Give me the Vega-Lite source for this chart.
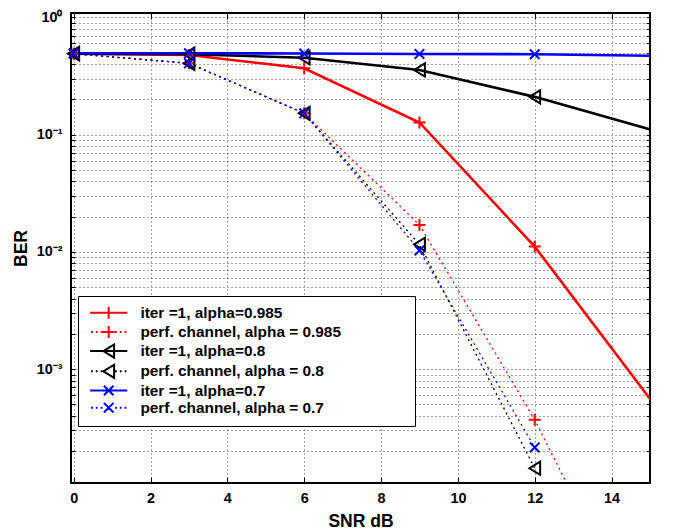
{
  "$schema": "https://vega.github.io/schema/vega-lite/v6.json",
  "width": 579,
  "height": 470,
  "autosize": {"type": "none"},
  "padding": {"left": 71, "top": 13, "right": 30, "bottom": 48},
  "background": "white",
  "config": {
    "font": "Liberation Sans",
    "view": {"stroke": "#000", "strokeWidth": 2},
    "axis": {
      "labelFont": "Liberation Sans", "labelFontWeight": "bold", "labelFontSize": 14.4, "labelColor": "#000",
      "titleFont": "Liberation Sans", "titleFontWeight": "bold", "titleFontSize": 17.5, "titleColor": "#000",
      "tickColor": "#000", "tickWidth": 1, "domain": false,
      "gridColor": "#444", "gridDash": [1, 3], "gridWidth": 1, "gridOpacity": 1
    }
  },
  "data": {"values": [
    {"series": "iter =1, alpha=0.985", "x": 0, "ber": 0.49},
    {"series": "iter =1, alpha=0.985", "x": 3, "ber": 0.478},
    {"series": "iter =1, alpha=0.985", "x": 6, "ber": 0.368},
    {"series": "iter =1, alpha=0.985", "x": 9, "ber": 0.127},
    {"series": "iter =1, alpha=0.985", "x": 12, "ber": 0.0111},
    {"series": "iter =1, alpha=0.985", "x": 18, "ber": 0.000028},
    {"series": "perf. channel, alpha = 0.985", "x": 0, "ber": 0.49},
    {"series": "perf. channel, alpha = 0.985", "x": 3, "ber": 0.406},
    {"series": "perf. channel, alpha = 0.985", "x": 6, "ber": 0.152},
    {"series": "perf. channel, alpha = 0.985", "x": 9, "ber": 0.017},
    {"series": "perf. channel, alpha = 0.985", "x": 12, "ber": 0.00037},
    {"series": "perf. channel, alpha = 0.985", "x": 15, "ber": 0.0000041},
    {"series": "iter =1, alpha=0.8", "x": 0, "ber": 0.49},
    {"series": "iter =1, alpha=0.8", "x": 3, "ber": 0.485},
    {"series": "iter =1, alpha=0.8", "x": 6, "ber": 0.453},
    {"series": "iter =1, alpha=0.8", "x": 9, "ber": 0.356},
    {"series": "iter =1, alpha=0.8", "x": 12, "ber": 0.21},
    {"series": "iter =1, alpha=0.8", "x": 18, "ber": 0.0587},
    {"series": "perf. channel, alpha = 0.8", "x": 0, "ber": 0.49},
    {"series": "perf. channel, alpha = 0.8", "x": 3, "ber": 0.406},
    {"series": "perf. channel, alpha = 0.8", "x": 6, "ber": 0.152},
    {"series": "perf. channel, alpha = 0.8", "x": 9, "ber": 0.0116},
    {"series": "perf. channel, alpha = 0.8", "x": 12, "ber": 0.000143},
    {"series": "iter =1, alpha=0.7", "x": 0, "ber": 0.494},
    {"series": "iter =1, alpha=0.7", "x": 3, "ber": 0.494},
    {"series": "iter =1, alpha=0.7", "x": 6, "ber": 0.492},
    {"series": "iter =1, alpha=0.7", "x": 9, "ber": 0.488},
    {"series": "iter =1, alpha=0.7", "x": 12, "ber": 0.485},
    {"series": "iter =1, alpha=0.7", "x": 18, "ber": 0.457},
    {"series": "perf. channel, alpha = 0.7", "x": 0, "ber": 0.49},
    {"series": "perf. channel, alpha = 0.7", "x": 3, "ber": 0.406},
    {"series": "perf. channel, alpha = 0.7", "x": 6, "ber": 0.152},
    {"series": "perf. channel, alpha = 0.7", "x": 9, "ber": 0.0103},
    {"series": "perf. channel, alpha = 0.7", "x": 12, "ber": 0.000215}
  ]},
  "layer": [
    {
      "transform": [{"filter": {"field": "series", "oneOf": ["perf. channel, alpha = 0.985", "perf. channel, alpha = 0.8", "perf. channel, alpha = 0.7"]}}],
      "mark": {"type": "line", "clip": true, "strokeWidth": 1.3, "strokeDash": [2, 3.5]},
      "encoding": {
        "x": {"field": "x", "type": "quantitative",
          "scale": {"domain": [-0.07, 15], "nice": false, "zero": false},
          "axis": {"orient": "bottom", "values": [0, 2, 4, 6, 8, 10, 12, 14], "title": "SNR dB", "grid": true,
            "tickSize": -6, "labelPadding": 14, "titlePadding": 8}},
        "y": {"field": "ber", "type": "quantitative",
          "scale": {"type": "log", "domain": [0.000107, 1.09], "nice": false, "zero": false},
          "axis": {"orient": "left", "title": "BER", "grid": true, "tickSize": -4, "labelPadding": 13, "titlePadding": 6,
            "labelOverlap": false,
            "values": [0.0002,0.0003,0.0004,0.0005,0.0006,0.0007,0.0008,0.0009,0.001,0.002,0.003,0.004,0.005,0.006,0.007,0.008,0.009,0.01,0.02,0.03,0.04,0.05,0.06,0.07,0.08,0.09,0.1,0.2,0.3,0.4,0.5,0.6,0.7,0.8,0.9,1],
            "labelExpr": "datum.value === 1 ? '10⁰' : datum.value === 0.1 ? '10⁻¹' : datum.value === 0.01 ? '10⁻²' : datum.value === 0.001 ? '10⁻³' : ''",
            "encode": {
              "ticks": {"x2": {"value": {"expr": "indexof([1,0.1,0.01,0.001], datum.value) >= 0 ? 7 : 4"}}},
              "grid": {"stroke": {"value": {"expr": "indexof([1,0.1,0.01,0.001], datum.value) >= 0 ? '#222' : '#666'"}}}
            }}},
        "color": {"field": "series", "type": "nominal",
          "scale": {"domain": ["iter =1, alpha=0.985", "perf. channel, alpha = 0.985", "iter =1, alpha=0.8", "perf. channel, alpha = 0.8", "iter =1, alpha=0.7", "perf. channel, alpha = 0.7"],
                    "range": ["#ff0000", "#ff0000", "#000000", "#000000", "#0000ff", "#0000ff"]},
          "legend": {
            "orient": "none", "legendX": 7, "legendY": 283, "title": null,
            "padding": 9, "symbolSize": 144, "symbolOffset": 14, "labelOffset": 24, "rowPadding": -1.8,
            "labelFont": "Liberation Sans", "labelFontWeight": "bold", "labelFontSize": 15.4, "labelColor": "#000",
            "labelLimit": 600,
            "labelExpr": "datum.label + '\u00a0\u00a0\u00a0\u00a0\u00a0\u00a0\u00a0\u00a0\u00a0\u00a0\u00a0\u00a0\u00a0\u00a0\u00a0\u200b'",
            "fillColor": "#ffffff", "strokeColor": "#000000",
            "symbolStrokeWidth": 2
          }}
      }
    },
    {
      "transform": [{"filter": {"field": "series", "oneOf": ["iter =1, alpha=0.985", "iter =1, alpha=0.8", "iter =1, alpha=0.7"]}}],
      "mark": {"type": "line", "clip": true, "strokeWidth": 2.6},
      "encoding": {
        "x": {"field": "x", "type": "quantitative",
          "scale": {"domain": [-0.07, 15], "nice": false, "zero": false},
          "axis": {"orient": "top", "values": [0, 2, 4, 6, 8, 10, 12, 14], "title": null, "labels": false, "grid": false, "tickSize": -6}},
        "y": {"field": "ber", "type": "quantitative",
          "scale": {"type": "log", "domain": [0.000107, 1.09], "nice": false, "zero": false},
          "axis": {"orient": "right", "title": null, "labels": false, "grid": false, "tickSize": -4,
            "values": [0.0002,0.0003,0.0004,0.0005,0.0006,0.0007,0.0008,0.0009,0.001,0.002,0.003,0.004,0.005,0.006,0.007,0.008,0.009,0.01,0.02,0.03,0.04,0.05,0.06,0.07,0.08,0.09,0.1,0.2,0.3,0.4,0.5,0.6,0.7,0.8,0.9,1],
            "encode": {"ticks": {"x2": {"value": {"expr": "indexof([1,0.1,0.01,0.001], datum.value) >= 0 ? -7 : -4"}}}}}},
        "color": {"field": "series", "type": "nominal"}
      }
    },
    {
      "transform": [{"filter": "datum.x > 100"}],
      "mark": {"type": "point", "filled": false, "strokeWidth": 2, "size": 144, "opacity": 1},
      "encoding": {
        "x": {"field": "x", "type": "quantitative", "axis": null},
        "y": {"field": "ber", "type": "quantitative", "axis": null},
        "color": {"field": "series", "type": "nominal"},
        "shape": {"field": "series", "type": "nominal",
          "scale": {"domain": ["iter =1, alpha=0.985", "perf. channel, alpha = 0.985", "iter =1, alpha=0.8", "perf. channel, alpha = 0.8", "iter =1, alpha=0.7", "perf. channel, alpha = 0.7"],
                    "range": [
                      "M-3.1,0H3.1M0,-1V1",
                      "M-2.95,0H-2.65M-2.15,0H-1.85M-1.35,0H-1.05M-0.55,0H-0.25M0.25,0H0.55M1.05,0H1.35M1.85,0H2.15M2.65,0H2.95M0,-1V1M-1,0H1",
                      "M-3.1,0H3.1M-0.9,0L0.9,-1.1L0.9,1.1Z",
                      "M-2.95,0H-2.65M-2.15,0H-1.85M-1.35,0H-1.05M1.05,0H1.35M1.85,0H2.15M2.65,0H2.95M-0.9,0L0.9,-1.1L0.9,1.1Z",
                      "M-3.1,0H3.1M-0.8,-0.8L0.8,0.8M-0.8,0.8L0.8,-0.8",
                      "M-2.95,0H-2.65M-2.15,0H-1.85M-1.35,0H-1.05M1.05,0H1.35M1.85,0H2.15M2.65,0H2.95M-0.8,-0.8L0.8,0.8M-0.8,0.8L0.8,-0.8"
                    ]}}
      }
    },
    {
      "transform": [{"filter": "datum.x <= 12"}, {"filter": {"field": "series", "oneOf": ["iter =1, alpha=0.985", "perf. channel, alpha = 0.985"]}}],
      "mark": {"type": "point", "filled": false, "strokeWidth": 2, "size": 144, "opacity": 1, "clip": false, "shape": "M-1,0H1M0,-1V1"},
      "encoding": {
        "x": {"field": "x", "type": "quantitative", "axis": null},
        "y": {"field": "ber", "type": "quantitative", "axis": null},
        "color": {"field": "series", "type": "nominal"}
      }
    },
    {
      "transform": [{"filter": "datum.x <= 12"}, {"filter": {"field": "series", "oneOf": ["iter =1, alpha=0.8", "perf. channel, alpha = 0.8"]}}],
      "mark": {"type": "point", "filled": false, "strokeWidth": 2, "size": 144, "opacity": 1, "clip": false, "shape": "M-0.9,0L0.9,-1.1L0.9,1.1Z"},
      "encoding": {
        "x": {"field": "x", "type": "quantitative", "axis": null},
        "y": {"field": "ber", "type": "quantitative", "axis": null},
        "color": {"field": "series", "type": "nominal"}
      }
    },
    {
      "transform": [{"filter": "datum.x <= 12"}, {"filter": {"field": "series", "oneOf": ["iter =1, alpha=0.7", "perf. channel, alpha = 0.7"]}}],
      "mark": {"type": "point", "filled": false, "strokeWidth": 2, "size": 144, "opacity": 1, "clip": false, "shape": "M-0.8,-0.8L0.8,0.8M-0.8,0.8L0.8,-0.8"},
      "encoding": {
        "x": {"field": "x", "type": "quantitative", "axis": null},
        "y": {"field": "ber", "type": "quantitative", "axis": null},
        "color": {"field": "series", "type": "nominal"}
      }
    }
  ],
  "resolve": {"axis": {"x": "independent", "y": "independent"}}
}
